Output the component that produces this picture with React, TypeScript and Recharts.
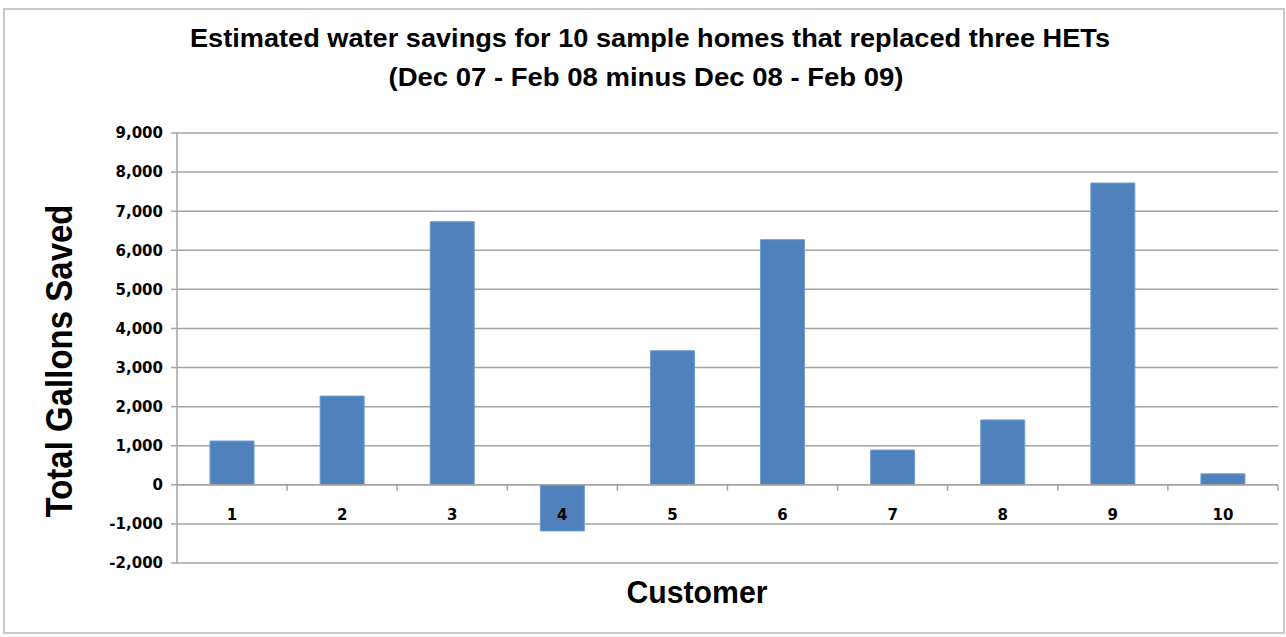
import { Bar, BarChart, CartesianGrid, LabelList, ReferenceLine, XAxis, YAxis } from 'recharts';

const customers = ['1', '2', '3', '4', '5', '6', '7', '8', '9', '10'];
const gallonsSaved = [1120, 2270, 6730, -1180, 3430, 6270, 890, 1660, 7720, 280];
const yTicks = [-2000, -1000, 0, 1000, 2000, 3000, 4000, 5000, 6000, 7000, 8000, 9000];

const data = customers.map((customer, i) => ({
  customer,
  saved: gallonsSaved[i],
}));

const gridColor = '#a3a3a3';
const tickFont = '"DejaVu Sans", Verdana, sans-serif';

// category label + boundary tick drawn on the zero line, like Excel's crossing axis
const CategoryLabel = (props: any) => {
  const { x, y, width, height, value, index } = props;
  const top = Math.min(y, y + height);
  const bottom = Math.max(y, y + height);
  const zeroY = gallonsSaved[index] >= 0 ? bottom : top;
  const cx = x + width / 2;
  const boundary = x + width * 1.75;
  return (
    <g>
      <line x1={boundary} x2={boundary} y1={zeroY} y2={zeroY + 6} stroke={gridColor} strokeWidth={1.5} />
      <text
        x={cx}
        y={zeroY + 30}
        textAnchor="middle"
        dominantBaseline="central"
        fontFamily={tickFont}
        fontWeight="bold"
        fontSize={15}
        fill="#000"
      >
        {customers[index] ?? value}
      </text>
    </g>
  );
};

export default function App() {
  return (
    <div style={{ position: 'absolute', left: 0, top: 0, width: 1286, height: 637, background: '#fff' }}>
      <div
        style={{
          position: 'absolute',
          left: 3,
          top: 8,
          width: 1278,
          height: 622,
          border: '2px solid #c8c8c8',
        }}
      />
      <div style={{ position: 'absolute', left: 0, top: 0 }}>
        <BarChart
          width={1286}
          height={637}
          data={data}
          margin={{ top: 133, right: 8, left: 117, bottom: 74 }}
          barCategoryGap="30%"
        >
          <CartesianGrid vertical={false} stroke={gridColor} strokeWidth={1.5} />
          <XAxis dataKey="customer" hide />
          <YAxis
            width={60}
            domain={[-2000, 9000]}
            ticks={yTicks}
            interval={0}
            tickFormatter={(v: number) => v.toLocaleString('en-US')}
            axisLine={{ stroke: gridColor, strokeWidth: 1.5 }}
            tickLine={{ stroke: gridColor, strokeWidth: 1.5 }}
            tickSize={6}
            tickMargin={8}
            tick={{ fill: '#000', fontSize: 15, fontWeight: 'bold', fontFamily: tickFont }}
          />
          <ReferenceLine y={0} stroke={gridColor} strokeWidth={1.5} />
          <Bar dataKey="saved" fill="#4f81bd" stroke="#6f9ad0" strokeWidth={1} isAnimationActive={false}>
            <LabelList dataKey="customer" content={CategoryLabel} />
          </Bar>
        </BarChart>
      </div>
      <svg
        width={1286}
        height={637}
        style={{ position: 'absolute', left: 0, top: 0, pointerEvents: 'none' }}
      >
        <g fontFamily='"Liberation Sans Narrow", "Liberation Sans", Arial, sans-serif' fontWeight="bold" fill="#000">
          <text x={650} y={47} fontSize={25} textAnchor="middle" textLength={920} lengthAdjust="spacingAndGlyphs">
            Estimated water savings for 10 sample homes that replaced three HETs
          </text>
          <text x={646} y={86} fontSize={25} textAnchor="middle" textLength={515} lengthAdjust="spacingAndGlyphs">
            (Dec 07 - Feb 08 minus Dec 08 - Feb 09)
          </text>
          <text
            transform="translate(72, 361) rotate(-90)"
            x={0}
            y={0}
            fontSize={37}
            textAnchor="middle"
            textLength={313}
            lengthAdjust="spacingAndGlyphs"
          >
            Total Gallons Saved
          </text>
          <text x={697} y={603} fontSize={31} textAnchor="middle" textLength={141} lengthAdjust="spacingAndGlyphs">
            Customer
          </text>
        </g>
      </svg>
    </div>
  );
}
